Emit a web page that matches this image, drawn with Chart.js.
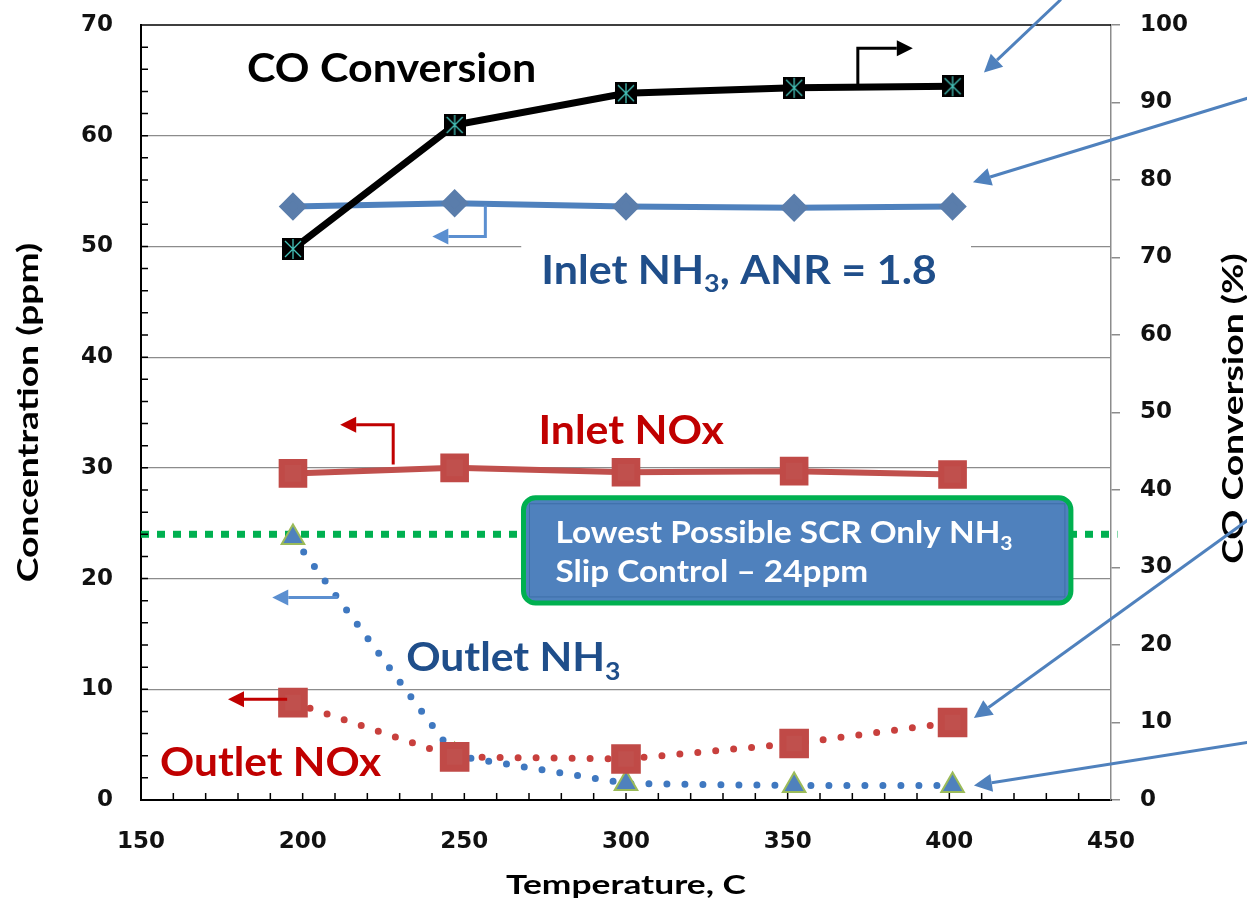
<!DOCTYPE html>
<html>
<head>
<meta charset="utf-8">
<script src="https://cdn.jsdelivr.net/npm/chart.js@4.4.1/dist/chart.umd.min.js"></script>
<style>
  html, body { margin: 0; padding: 0; background: #fff; }
</style>
</head>
<body>
<canvas id="chart" width="1247" height="903"></canvas>
<script>
// Temperatures (C) of the five measurements
const temps = [197, 247, 300, 352, 401];

// Left axis values, ppm
const inletNH3 = [53.6, 53.9, 53.6, 53.5, 53.6];
const inletNOx = [29.5, 30.0, 29.6, 29.7, 29.4];
const outletNOx = [8.8, 3.9, 3.7, 5.1, 7.0];
const outletNH3 = [23.7, 4.0, 1.5, 1.3, 1.3];

// Right axis values, %
const coConversion = [71.1, 87.1, 91.2, 91.9, 92.1];

// SCR-only slip limit (ppm) and the x range it spans
const slipLimit = 24;
const slipRange = [150, 452];

// Axis ranges
const xRange = [150, 450];
const leftRange = [0, 70];
const rightRange = [0, 100];

const RED = '#c0504d';
const RED_TEXT = '#c00000';
const BLUE = '#4f81bd';
const BLUE_TEXT = '#1f4e8a';
const GREEN = '#00b050';
const ARROW_BLUE = '#5b8fd0';

// pair temperatures with values
function toPoints(ys) {
    return temps.map((t, i) => ({ x: t, y: ys[i] }));
}

// black square with teal asterisk used for the CO conversion points
function coMarker() {
    const c = document.createElement('canvas');
    c.width = 22;
    c.height = 22;
    const g = c.getContext('2d');
    g.fillStyle = '#000';
    g.fillRect(0, 0, 22, 22);
    g.strokeStyle = '#45c1b8';
    g.lineWidth = 1.3;
    g.beginPath();
    g.moveTo(3, 3); g.lineTo(19, 19);
    g.moveTo(19, 3); g.lineTo(3, 19);
    g.moveTo(11, 1); g.lineTo(11, 21);
    g.stroke();
    return c;
}

// draw a polyline that ends in a filled arrow head
function drawArrow(ctx, pts, color, width, head) {
    const n = pts.length;
    const [x1, y1] = pts[n - 2];
    const [x2, y2] = pts[n - 1];
    const ang = Math.atan2(y2 - y1, x2 - x1);
    const bx = x2 - Math.cos(ang) * head;
    const by = y2 - Math.sin(ang) * head;
    ctx.save();
    ctx.strokeStyle = color;
    ctx.fillStyle = color;
    ctx.lineWidth = width;
    ctx.beginPath();
    ctx.moveTo(pts[0][0], pts[0][1]);
    for (let i = 1; i < n - 1; i++) ctx.lineTo(pts[i][0], pts[i][1]);
    ctx.lineTo(bx, by);
    ctx.stroke();
    ctx.beginPath();
    ctx.moveTo(x2, y2);
    ctx.lineTo(bx + Math.sin(ang) * head * 0.5, by - Math.cos(ang) * head * 0.5);
    ctx.lineTo(bx - Math.sin(ang) * head * 0.5, by + Math.cos(ang) * head * 0.5);
    ctx.closePath();
    ctx.fill();
    ctx.restore();
}

// text made of runs; a run flagged true is a subscript. sx stretches along the text
function drawRuns(ctx, runs, x, y, size, color, sx, rot, center) {
    ctx.save();
    ctx.translate(x, y);
    if (rot) ctx.rotate(rot);
    ctx.scale(sx || 1, 1);
    ctx.fillStyle = color;
    ctx.textBaseline = 'alphabetic';
    ctx.textAlign = 'left';
    let total = 0;
    runs.forEach(([txt, sub]) => {
        ctx.font = 'bold ' + (sub ? Math.round(size * 0.62) : size) + 'px Lato';
        total += ctx.measureText(txt).width;
    });
    let cx = center ? -total / 2 : 0;
    runs.forEach(([txt, sub]) => {
        ctx.font = 'bold ' + (sub ? Math.round(size * 0.62) : size) + 'px Lato';
        ctx.fillText(txt, cx, sub ? size * 0.22 : 0);
        cx += ctx.measureText(txt).width;
    });
    ctx.restore();
}

const annotations = {
    id: 'annotations',
    afterDraw(chart) {
        const ctx = chart.ctx;
        const xs = chart.scales.x;
        const ys = chart.scales.y;
        const px = v => xs.getPixelForValue(v);
        const py = v => ys.getPixelForValue(v);
        const area = chart.chartArea;
        const midY = (area.top + area.bottom) / 2;

        // top frame line and minor ticks on the left and bottom axes
        ctx.save();
        ctx.strokeStyle = '#000';
        ctx.lineWidth = 1.5;
        ctx.beginPath();
        ctx.moveTo(area.left, area.top);
        ctx.lineTo(area.right, area.top);
        for (let v = leftRange[0] + 2; v < leftRange[1]; v += 2) {
            ctx.moveTo(area.left, py(v));
            ctx.lineTo(area.left + 7, py(v));
        }
        for (let v = xRange[0] + 10; v < xRange[1]; v += 10) {
            ctx.moveTo(px(v), area.bottom);
            ctx.lineTo(px(v), area.bottom - 7);
        }
        ctx.stroke();
        ctx.restore();

        // axis titles
        drawRuns(ctx, [['Temperature, C', false]], (area.left + area.right) / 2, 894, 26, '#000', 1.36, 0, true);
        drawRuns(ctx, [['Concentration (ppm)', false]], 38, midY, 28, '#000', 1.33, -Math.PI / 2, true);
        drawRuns(ctx, [['CO Conversion (%)', false]], 1243, midY - 4, 28, '#000', 1.33, -Math.PI / 2, true);

        // white panel behind the inlet NH3 label
        ctx.fillStyle = '#fff';
        ctx.fillRect(px(267.6), py(51.7), px(406.7) - px(267.6), py(45.2) - py(51.7));

        // series labels
        drawRuns(ctx, [['CO Conversion', false]], px(182.8), py(66.1) + 14, 40, '#000', 1.075);
        drawRuns(ctx, [['Inlet NH', false], ['3', true], [', ANR = 1.8', false]], px(273.8), py(47.9) + 14, 40, BLUE_TEXT, 1.075);
        drawRuns(ctx, [['Inlet NOx', false]], px(272.9), py(33.4) + 14, 40, RED_TEXT, 1.07);
        drawRuns(ctx, [['Outlet NH', false], ['3', true]], px(232), py(12.9) + 14, 40, BLUE_TEXT, 1.065);
        drawRuns(ctx, [['Outlet NOx', false]], px(155.9), py(3.4) + 14, 40, RED_TEXT, 1.06);

        // slip control call-out box
        const bx = px(268.3), by = py(27.3);
        const bw = px(437.6) - bx, bh = py(17.8) - by;
        ctx.save();
        ctx.beginPath();
        ctx.roundRect(bx, by, bw, bh, 12);
        ctx.fillStyle = '#4f81bd';
        ctx.fill();
        ctx.lineWidth = 5;
        ctx.strokeStyle = GREEN;
        ctx.stroke();
        ctx.lineWidth = 1;
        ctx.strokeStyle = '#3d6ea8';
        ctx.strokeRect(bx + 6, by + 6, bw - 12, bh - 12);
        ctx.restore();
        drawRuns(ctx, [['Lowest Possible SCR Only NH', false], ['3', true]], px(278.2), py(24.2) + 11, 30, '#fff', 1.11);
        drawRuns(ctx, [['Slip Control \u2013 24ppm', false]], px(278.2), py(20.7) + 11, 30, '#fff', 1.11);

        // axis pointers
        drawArrow(ctx, [[px(371.7), py(64.3)], [px(371.7), py(67.9)], [px(388.7), py(67.9)]], '#000', 3, 16);
        drawArrow(ctx, [[px(256.5), py(53.7)], [px(256.5), py(50.9)], [px(240.1), py(50.9)]], ARROW_BLUE, 3, 16);
        drawArrow(ctx, [[px(228), py(30.3)], [px(228), py(33.9)], [px(211.6), py(33.9)]], RED_TEXT, 3, 16);
        drawArrow(ctx, [[px(210.7), py(18.3)], [px(190.6), py(18.3)]], ARROW_BLUE, 3, 16);
        drawArrow(ctx, [[px(195.2), py(9.1)], [px(176.9), py(9.1)]], RED_TEXT, 3, 16);

        // long call-out arrows coming in from the right
        const c = '#4f81bd';
        drawArrow(ctx, [[px(434.5), py(72.3)], [px(410.7), py(65.7)]], c, 3, 18);
        drawArrow(ctx, [[px(492.4), py(63.4)], [px(407.3), py(55.8)]], c, 3, 18);
        drawArrow(ctx, [[px(492.4), py(25.3)], [px(407.6), py(7.4)]], c, 3, 18);
        drawArrow(ctx, [[px(492.4), py(5.2)], [px(407.6), py(1.3)]], c, 3, 18);
    }
};

// fixed axis sizes so the plot area matches the original frame
function fixVertical(width) {
    return s => {
        s.width = width;
        s.paddingTop = 0;
        s.paddingBottom = 0;
    };
}

function makeChart() {
    const ctx = document.getElementById('chart').getContext('2d');
    new Chart(ctx, {
        type: 'line',
        data: {
            datasets: [
                {
                    label: 'CO Conversion',
                    data: toPoints(coConversion),
                    yAxisID: 'y1',
                    borderColor: '#000',
                    borderWidth: 7,
                    pointStyle: coMarker(),
                    order: 0
                },
                {
                    label: 'Inlet NH3',
                    data: toPoints(inletNH3),
                    yAxisID: 'y',
                    borderColor: BLUE,
                    borderWidth: 6,
                    pointStyle: 'rectRot',
                    pointRadius: 10,
                    pointBackgroundColor: '#5a7dab',
                    pointBorderColor: '#5a7dab',
                    order: 3
                },
                {
                    label: 'Inlet NOx',
                    data: toPoints(inletNOx),
                    yAxisID: 'y',
                    borderColor: RED,
                    borderWidth: 6,
                    pointStyle: 'rect',
                    pointRadius: 16,
                    pointBackgroundColor: RED,
                    pointBorderColor: '#c04a47',
                    order: 2
                },
                {
                    label: 'Outlet NOx',
                    data: toPoints(outletNOx),
                    yAxisID: 'y',
                    borderColor: '#c8403d',
                    borderWidth: 7,
                    borderDash: [0, 18],
                    borderCapStyle: 'round',
                    pointStyle: 'rect',
                    pointRadius: 16,
                    pointBackgroundColor: RED,
                    pointBorderColor: '#c04a47',
                    order: 4
                },
                {
                    label: 'Outlet NH3',
                    data: toPoints(outletNH3),
                    yAxisID: 'y',
                    borderColor: '#3f78c0',
                    borderWidth: 7,
                    borderDash: [0, 18],
                    borderCapStyle: 'round',
                    pointStyle: 'triangle',
                    pointRadius: 13,
                    pointBackgroundColor: '#4f81bd',
                    pointBorderColor: '#9bbb59',
                    pointBorderWidth: 2,
                    order: 5
                },
                {
                    label: 'Slip limit',
                    data: slipRange.map(x => ({ x: x, y: slipLimit })),
                    yAxisID: 'y',
                    borderColor: GREEN,
                    borderWidth: 7,
                    borderDash: [8, 8],
                    pointRadius: 0,
                    clip: false,
                    order: 10
                }
            ]
        },
        options: {
            responsive: false,
            devicePixelRatio: 1,
            animation: false,
            layout: { padding: { top: 25, left: 0, right: 0, bottom: 0 } },
            plugins: {
                legend: { display: false },
                tooltip: { enabled: false }
            },
            elements: { line: { tension: 0 } },
            scales: {
                x: {
                    type: 'linear',
                    min: xRange[0],
                    max: xRange[1],
                    afterFit: s => { s.height = 103; },
                    ticks: {
                        stepSize: 50,
                        padding: 28,
                        color: '#111',
                        font: { family: 'DejaVu Sans', weight: 'bold', size: 23 }
                    },
                    grid: { drawOnChartArea: false, drawTicks: false },
                    border: { color: '#000', width: 2 }
                },
                y: {
                    position: 'left',
                    min: leftRange[0],
                    max: leftRange[1],
                    afterFit: fixVertical(141),
                    ticks: {
                        stepSize: 10,
                        padding: 28,
                        color: '#111',
                        font: { family: 'DejaVu Sans', weight: 'bold', size: 23 }
                    },
                    grid: {
                        drawTicks: false,
                        lineWidth: 1.2,
                        color: c => (c.tick && c.tick.value === leftRange[1]) ? 'rgba(0,0,0,0)' : '#8c8c8c'
                    },
                    border: { color: '#000', width: 2 }
                },
                y1: {
                    position: 'right',
                    min: rightRange[0],
                    max: rightRange[1],
                    afterFit: fixVertical(136),
                    ticks: {
                        stepSize: 10,
                        padding: 20,
                        color: '#111',
                        font: { family: 'DejaVu Sans', weight: 'bold', size: 23 }
                    },
                    grid: { drawOnChartArea: false, tickLength: 9, color: '#8c8c8c', lineWidth: 1.5 },
                    border: { color: '#8c8c8c', width: 1.5 }
                }
            }
        },
        plugins: [annotations]
    });
}

Promise.all([
    document.fonts.load('bold 40px Lato'),
    document.fonts.load('bold 23px "DejaVu Sans"')
]).then(makeChart, makeChart);
</script>
</body>
</html>
